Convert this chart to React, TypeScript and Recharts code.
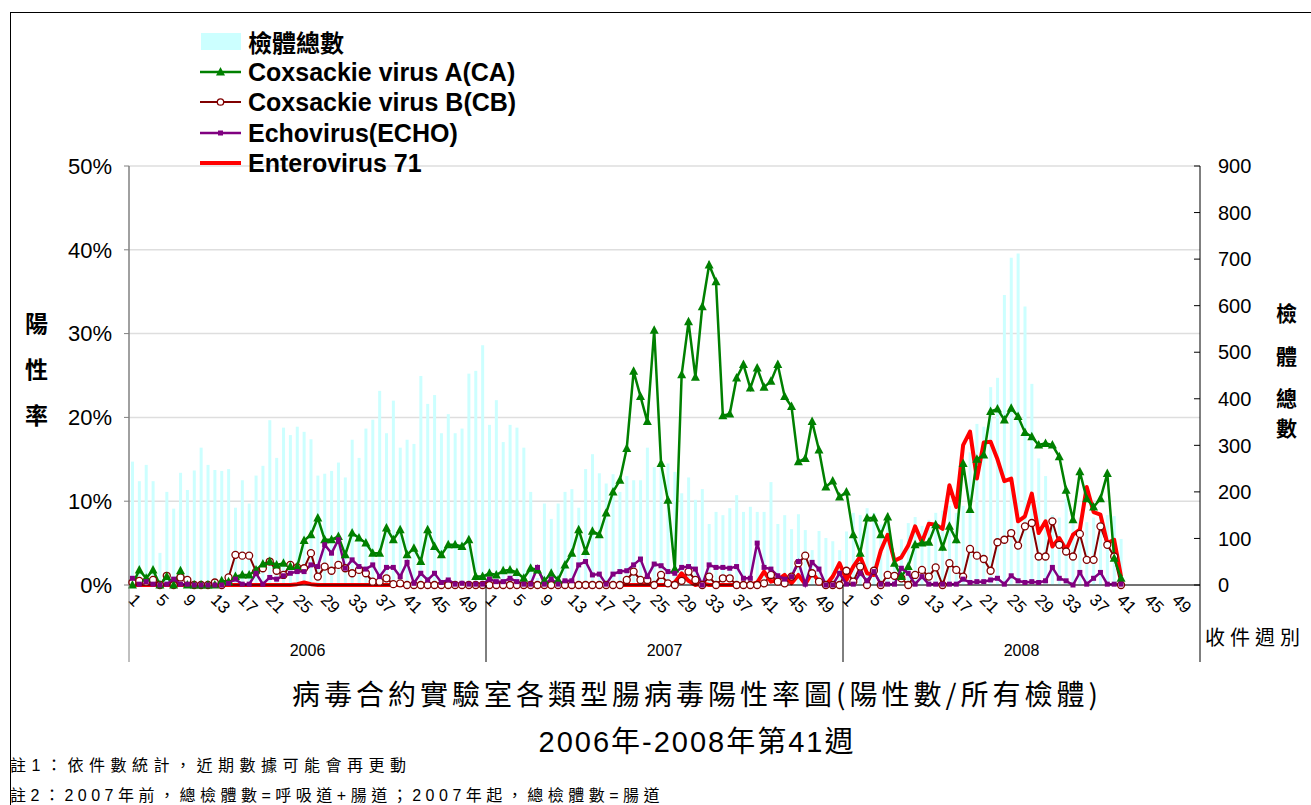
import { Bar, CartesianGrid, ComposedChart, Line, XAxis, YAxis } from 'recharts';

// weekly data, 2006 week 1 .. 2008 week 41
const YEARS = ['2006', '2007', '2008'];
const WEEKS_PER_YEAR = 52;

// 檢體總數 (right axis)
const specimens2006 = [
  265, 223, 258, 223, 69, 200, 164, 241, 204, 246, 295, 258, 247, 245, 249, 166, 225, 175, 235, 256,
  354, 273, 338, 322, 340, 329, 313, 235, 239, 245, 263, 231, 312, 273, 336, 355, 417, 326, 396, 295,
  312, 303, 449, 389, 408, 326, 367, 326, 336, 454, 460, 515,
];
const specimens2007 = [
  344, 397, 307, 344, 338, 295, 200, 15, 175, 142, 175, 200, 206, 166, 249, 281, 240, 218, 238, 200,
  234, 225, 225, 295, 253, 261, 261, 243, 197, 231, 183, 206, 131, 157, 150, 165, 193, 157, 168, 157,
  157, 221, 131, 150, 120, 152, 118, 75, 116, 101, 94, 75,
];
const specimens2008 = [
  115, 155, 150, 165, 155, 130, 150, 45, 98, 133, 146, 127, 140, 155, 160, 170, 155, 170, 285, 346,
  340, 425, 445, 623, 703, 712, 598, 432, 272, 234, 150, 145, 185, 140, 145, 135, 145, 150, 150, 148,
  99,
];

// Coxsackie virus A (%)
const ca2006 = [
  0, 1.8, 0.8, 1.8, 0, 1.0, 0, 1.7, 0, 0, 0, 0, 0, 0.5, 0.4, 1.0, 1.2, 1.2, 1.8, 2.5,
  2.8, 2.4, 2.6, 2.2, 2.2, 5.3, 6.0, 8.0, 5.4, 5.4, 5.8, 3.6, 6.2, 5.6, 5.0, 3.8, 3.8, 6.8, 5.4, 6.6,
  3.6, 4.4, 2.8, 6.6, 4.6, 3.6, 4.8, 4.8, 4.6, 5.4, 1.0, 1.0,
];
const ca2007 = [
  1.4, 1.2, 1.7, 1.8, 1.5, 0.8, 2.0, 1.8, 0.5, 1.4, 0.6, 2.4, 3.8, 6.6, 4.0, 6.4, 6.0, 8.6, 11.1, 12.5,
  16.3, 25.5, 22.5, 19.5, 30.4, 14.5, 10.1, 1.9, 25.1, 31.4, 24.8, 33.2, 38.2, 36.2, 20.2, 20.4, 24.7, 26.3, 23.5, 25.9,
  23.6, 24.3, 26.3, 22.5, 21.3, 14.7, 15.1, 19.5, 16.1, 11.7, 12.4, 10.5,
];
const ca2008 = [
  11.1, 6.0, 3.8, 8.0, 8.0, 6.0, 8.1, 2.6, 1.0, 2.2, 4.8, 5.0, 5.1, 7.2, 4.5, 7.0, 5.4, 14.5, 9.0, 15.0,
  15.5, 20.7, 21.0, 19.7, 21.1, 20.1, 18.2, 17.7, 16.7, 16.9, 16.7, 15.3, 11.3, 7.8, 13.5, 10.3, 9.3, 10.3, 13.3, 3.2,
  0.8,
];

// Coxsackie virus B (%)
const cb2006 = [
  0.3, 0.5, 0.4, 0.6, 0, 1.1, 0, 0.9, 0.6, 0, 0, 0, 0.3, 0, 0.9, 3.6, 3.5, 3.5, 1.6, 2.0,
  2.8, 1.7, 1.2, 2.4, 2.1, 2.0, 3.8, 1.0, 2.2, 1.7, 2.4, 2.0, 1.4, 1.8, 1.4, 0.4, 0.4, 0.8, 0.1, 0.2,
  0, 0, 0, 0, 0, 0, 0, 0, 0, 0, 0, 0,
];
const cb2007 = [
  0, 0, 0, 0, 0, 0, 0, 0, 0, 0, 0, 0, 0, 0, 0, 0, 0, 0, 0, 0,
  0.6, 1.6, 0.6, 0.6, 0, 1.2, 0.2, 0, 0.5, 1.6, 0.6, 0, 1.0, 0, 0.8, 0.8, 0, 0, 0, 0,
  0.2, 1.2, 0.4, 0.2, 1.0, 2.6, 3.5, 1.4, 0.4, 0, 0, 0,
];
const cb2008 = [
  1.7, 0.4, 2.2, 0, 1.7, 0, 1.2, 1.1, 0.8, 0, 1.2, 1.8, 1.0, 2.1, 0, 2.6, 1.8, 1.0, 4.3, 3.5,
  3.1, 1.7, 5.1, 5.4, 6.2, 4.7, 7.0, 7.4, 3.4, 3.4, 7.6, 4.8, 4.0, 3.4, 6.1, 3.0, 3.0, 7.0, 4.8, 3.4,
  0,
];

// Echovirus (%)
const echo2006 = [
  0.8, 0.1, 0.4, 0.1, 0, 0.1, 0.7, 0.1, 0.1, 0, 0, 0, 0, 0, 0.2, 0.7, 0.1, 0.1, 1.4, 0.1,
  0.9, 0.7, 1.1, 1.4, 1.6, 1.6, 2.4, 2.2, 4.8, 3.8, 5.4, 2.0, 3.0, 2.2, 1.9, 2.4, 1.0, 2.1, 2.1, 1.0,
  2.7, 0.2, 1.4, 0.6, 1.4, 0.3, 0.6, 0.1, 0.2, 0.1, 0.1, 0.1,
];
const echo2007 = [
  0.7, 0.4, 0.4, 0.8, 0.4, 0.1, 0.1, 2.1, 0.1, 0.7, 0.1, 0.5, 0.5, 2.4, 2.8, 1.2, 1.3, 0.1, 1.3, 1.6,
  1.7, 2.4, 3.1, 1.0, 2.5, 2.3, 1.6, 1.4, 2.1, 2.2, 1.9, 0, 2.4, 2.1, 2.1, 2.0, 2.2, 0.8, 0.8, 5.0,
  2.1, 1.9, 1.1, 0.7, 1.0, 2.8, 0.1, 2.7, 1.9, 0, 0, 1.4,
];
const echo2008 = [
  0.1, 0.1, 1.4, 0.5, 1.6, 0.1, 0.1, 0.1, 2.0, 1.4, 0.1, 1.0, 0.1, 0.1, 0.1, 0.1, 0.1, 0.7, 0.3, 0.4,
  0.4, 0.6, 0.8, 0.1, 1.1, 0.5, 0.3, 0.4, 0.3, 0.5, 2.1, 0.8, 0.5, 0, 1.5, 0.1, 0.8, 1.5, 0.1, 0.1,
  0.1,
];

// Enterovirus 71 (%)
const ev2006 = [
  0, 0, 0, 0, 0, 0, 0, 0, 0, 0, 0, 0, 0, 0, 0, 0, 0, 0, 0, 0,
  0, 0, 0, 0, 0.1, 0.3, 0.1, 0, 0, 0, 0, 0, 0, 0, 0, 0, 0, 0, 0, 0,
  0, 0, 0, 0, 0, 0, 0, 0, 0, 0, 0, 0,
];
const ev2007 = [
  0, 0, 0, 0, 0, 0, 0, 0, 0, 0, 0, 0, 0, 0, 0, 0, 0, 0, 0, 0,
  0, 0, 0, 0, 0, 0, 0, 0.3, 1.4, 0.5, 0, 0.2, 0, 0, 0, 0, 0, 0, 0, 0.3,
  1.6, 0.4, 0.6, 1.2, 0.2, 1.2, 0.1, 1.5, 0.4, 0, 1.0, 2.6,
];
const ev2008 = [
  0.6, 2.2, 3.4, 1.4, 1.2, 4.1, 6.0, 2.9, 3.3, 4.7, 7.0, 5.1, 7.3, 7.2, 6.7, 11.9, 9.3, 16.7, 18.3, 12.7,
  17.0, 17.1, 15.0, 12.4, 12.7, 7.6, 8.2, 10.9, 6.2, 7.6, 4.6, 5.6, 4.2, 6.0, 6.6, 11.7, 8.7, 8.4, 5.0, 5.4,
  1.0,
];

const leftTicks = [0, 10, 20, 30, 40, 50];
const rightTicks = [0, 100, 200, 300, 400, 500, 600, 700, 800, 900];

const specimens = [...specimens2006, ...specimens2007, ...specimens2008];
const ca = [...ca2006, ...ca2007, ...ca2008];
const cb = [...cb2006, ...cb2007, ...cb2008];
const echo = [...echo2006, ...echo2007, ...echo2008];
const ev71 = [...ev2006, ...ev2007, ...ev2008];

const rows = YEARS.flatMap((year, y) =>
  Array.from({ length: WEEKS_PER_YEAR }, (_, w) => {
    const i = y * WEEKS_PER_YEAR + w;
    return {
      key: `${year}-${w + 1}`,
      specimens: specimens[i] ?? null,
      ca: ca[i] ?? null,
      cb: cb[i] ?? null,
      echo: echo[i] ?? null,
      ev71: ev71[i] ?? null,
    };
  })
);

const SANS = '"Liberation Sans", Arial, sans-serif';
const CJK = '"Noto Sans CJK TC", "Noto Sans CJK JP", sans-serif';
const NARROW = '"Liberation Sans Narrow", "Arial Narrow", "Liberation Sans", sans-serif';

const GREEN = '#008000';
const MAROON = '#800000';
const PURPLE = '#800080';
const RED = '#ff0000';
const CYAN = '#ccffff';

const PLOT_LEFT = 129;
const PLOT_RIGHT = 1200;
const PLOT_BOTTOM = 585;
const GROUP_BOTTOM = 662;
const HALF_BAND = (PLOT_RIGHT - PLOT_LEFT) / rows.length / 2;

const triangleDot = (props: any) => {
  const { cx, cy, index, value } = props;
  if (cx == null || cy == null || value == null) return <g key={`ca-${index}`} />;
  return (
    <path
      key={`ca-${index}`}
      d={`M${cx},${cy - 5}L${cx + 4.5},${cy + 3.5}L${cx - 4.5},${cy + 3.5}Z`}
      fill={GREEN}
    />
  );
};

const circleDot = (props: any) => {
  const { cx, cy, index, value } = props;
  if (cx == null || cy == null || value == null) return <g key={`cb-${index}`} />;
  return <circle key={`cb-${index}`} cx={cx} cy={cy} r={3.5} fill="#fff" stroke={MAROON} strokeWidth={1.3} />;
};

const squareDot = (props: any) => {
  const { cx, cy, index, value } = props;
  if (cx == null || cy == null || value == null) return <g key={`echo-${index}`} />;
  return <rect key={`echo-${index}`} x={cx - 2.5} y={cy - 2.5} width={5} height={5} fill={PURPLE} />;
};

const WeekTick = (props: any) => {
  const { x, payload, index } = props;
  const [year, weekStr] = String(payload.value).split('-');
  const week = Number(weekStr);
  const parts = [];
  if ((week - 1) % 4 === 0) {
    parts.push(
      <text
        key="w"
        x={x - 5}
        y={601}
        transform={`rotate(45 ${x - 5} 601)`}
        fontSize={17}
        fontFamily={SANS}
        fill="#000"
        textAnchor="start"
      >
        {week}
      </text>
    );
  }
  if (week === 1) {
    parts.push(
      <line
        key="s"
        x1={x - HALF_BAND}
        x2={x - HALF_BAND}
        y1={PLOT_BOTTOM}
        y2={GROUP_BOTTOM}
        stroke={index === 0 ? '#808080' : '#000'}
      />
    );
  }
  if (week === 27) {
    parts.push(
      <text key="y" x={x - HALF_BAND} y={656} fontSize={16} fontFamily={SANS} fill="#000" textAnchor="middle">
        {year}
      </text>
    );
  }
  if (index === rows.length - 1) {
    parts.push(
      <line key="e" x1={x + HALF_BAND} x2={x + HALF_BAND} y1={PLOT_BOTTOM} y2={GROUP_BOTTOM} stroke="#000" />
    );
  }
  return <g>{parts}</g>;
};

const RightTick = (props: any) => {
  const { y, payload } = props;
  return (
    <g>
      <line x1={PLOT_RIGHT - 6} x2={PLOT_RIGHT} y1={y} y2={y} stroke="#000" />
      <text x={PLOT_RIGHT + 18} y={y} dy="0.36em" fontSize={20} fontFamily={SANS} fill="#000" textAnchor="start">
        {payload.value}
      </text>
    </g>
  );
};

const legendItems = [
  { label: '檢體總數', kind: 'bar', cy: 42 },
  { label: 'Coxsackie virus A(CA)', kind: 'ca', cy: 72 },
  { label: 'Coxsackie virus B(CB)', kind: 'cb', cy: 102 },
  { label: 'Echovirus(ECHO)', kind: 'echo', cy: 133 },
  { label: 'Enterovirus 71', kind: 'ev', cy: 163 },
];

function LegendSwatch({ kind }: { kind: string }) {
  return (
    <svg width={44} height={20} style={{ display: 'block' }}>
      {kind === 'bar' && <rect x={1} y={1} width={40} height={17} fill={CYAN} />}
      {kind === 'ca' && (
        <g>
          <line x1={0} x2={41} y1={10} y2={10} stroke={GREEN} strokeWidth={2.5} />
          <path d="M20.5,5 L25,13.5 L16,13.5Z" fill={GREEN} />
        </g>
      )}
      {kind === 'cb' && (
        <g>
          <line x1={0} x2={41} y1={10} y2={10} stroke={MAROON} strokeWidth={2} />
          <circle cx={20.5} cy={10} r={3.2} fill="#fff" stroke={MAROON} strokeWidth={1.3} />
        </g>
      )}
      {kind === 'echo' && (
        <g>
          <line x1={0} x2={41} y1={10} y2={10} stroke={PURPLE} strokeWidth={2.5} />
          <rect x={18} y={7.5} width={5} height={5} fill={PURPLE} />
        </g>
      )}
      {kind === 'ev' && <line x1={0} x2={41} y1={10} y2={10} stroke={RED} strokeWidth={4} />}
    </svg>
  );
}

export default function App() {
  return (
    <div
      style={{
        position: 'absolute',
        left: 0,
        top: 0,
        width: 1311,
        height: 805,
        overflow: 'hidden',
        background: '#fff',
        fontFamily: SANS,
      }}
    >
      <div
        style={{
          position: 'absolute',
          left: 10,
          top: 12,
          width: 1340,
          height: 840,
          border: '1px solid #000',
        }}
      />

      <div style={{ position: 'absolute', left: 0, top: 0 }}>
        <ComposedChart
          width={1311}
          height={670}
          data={rows}
          margin={{ top: 166, right: 51, bottom: 8, left: 69 }}
          barCategoryGap={0}
        >
          <CartesianGrid yAxisId="left" vertical={false} stroke="#dedede" strokeWidth={1.5} />
          <XAxis
            dataKey="key"
            interval={0}
            height={77}
            tickLine={false}
            axisLine={{ stroke: '#000' }}
            tick={WeekTick}
          />
          <YAxis
            yAxisId="left"
            orientation="left"
            width={60}
            domain={[0, 50]}
            ticks={leftTicks}
            tickFormatter={(v: number) => `${v}%`}
            tick={{ fontSize: 22, fill: '#000', fontFamily: SANS }}
            tickSize={5}
            tickMargin={12}
            tickLine={{ stroke: '#808080' }}
            axisLine={{ stroke: '#808080', strokeWidth: 1.5 }}
          />
          <YAxis
            yAxisId="right"
            orientation="right"
            width={60}
            domain={[0, 900]}
            ticks={rightTicks}
            tick={RightTick}
            tickLine={false}
            axisLine={{ stroke: '#000' }}
          />
          <Bar yAxisId="right" dataKey="specimens" fill={CYAN} barSize={3} isAnimationActive={false} />
          <Line
            yAxisId="left"
            dataKey="cb"
            stroke={MAROON}
            strokeWidth={2}
            dot={circleDot}
            activeDot={false}
            isAnimationActive={false}
          />
          <Line
            yAxisId="left"
            dataKey="ev71"
            stroke={RED}
            strokeWidth={4}
            strokeLinejoin="round"
            dot={false}
            activeDot={false}
            isAnimationActive={false}
          />
          <Line
            yAxisId="left"
            dataKey="ca"
            stroke={GREEN}
            strokeWidth={2.5}
            dot={triangleDot}
            activeDot={false}
            isAnimationActive={false}
          />
          <Line
            yAxisId="left"
            dataKey="echo"
            stroke={PURPLE}
            strokeWidth={2.5}
            dot={squareDot}
            activeDot={false}
            isAnimationActive={false}
          />
        </ComposedChart>
      </div>

      {/* legend */}
      {legendItems.map((item) => (
        <div
          key={item.kind}
          style={{
            position: 'absolute',
            left: 200,
            top: item.cy - 13,
            height: 26,
            display: 'flex',
            alignItems: 'center',
          }}
        >
          <LegendSwatch kind={item.kind} />
          <span
            style={{
              marginLeft: 4,
              fontSize: item.kind === 'bar' ? 24 : 25,
              fontWeight: 'bold',
              fontFamily: item.kind === 'bar' ? CJK : SANS,
              lineHeight: '26px',
              height: 26,
              display: 'block',
              whiteSpace: 'nowrap',
            }}
          >
            {item.label}
          </span>
        </div>
      ))}

      {/* axis titles */}
      {['陽', '性', '率'].map((ch, i) => (
        <div
          key={ch}
          style={{
            position: 'absolute',
            left: 25,
            top: 322 + i * 46 - 14,
            fontSize: 23,
            fontWeight: 'bold',
            fontFamily: CJK,
            lineHeight: '28px',
          }}
        >
          {ch}
        </div>
      ))}
      {['檢', '體', '總', '數'].map((ch, i) => (
        <div
          key={ch}
          style={{
            position: 'absolute',
            left: 1276,
            top: [312, 355, 397, 427][i] - 13,
            fontSize: 21,
            fontWeight: 'bold',
            fontFamily: CJK,
            lineHeight: '26px',
          }}
        >
          {ch}
        </div>
      ))}
      <div
        style={{
          position: 'absolute',
          left: 1205,
          top: 622,
          fontSize: 20,
          letterSpacing: 5,
          fontFamily: CJK,
          lineHeight: '30px',
          whiteSpace: 'nowrap',
        }}
      >
        收件週別
      </div>

      {/* titles */}
      <div
        style={{
          position: 'absolute',
          left: 0,
          width: 1394,
          top: 674,
          textAlign: 'center',
          fontSize: 28,
          letterSpacing: 4,
          fontFamily: CJK,
          lineHeight: '38px',
          whiteSpace: 'nowrap',
        }}
      >
        病毒合約實驗室各類型腸病毒陽性率圖(陽性數/所有檢體)
      </div>
      <div
        style={{
          position: 'absolute',
          left: 0,
          width: 1394,
          top: 722,
          textAlign: 'center',
          fontSize: 29,
          letterSpacing: 2,
          fontFamily: `${NARROW}, ${CJK}`,
          lineHeight: '40px',
          whiteSpace: 'nowrap',
        }}
      >
        2006年-2008年第41週
      </div>

      {/* notes */}
      <div
        style={{
          position: 'absolute',
          left: 10,
          top: 754,
          fontSize: 16,
          letterSpacing: 5.5,
          fontFamily: `${NARROW}, ${CJK}`,
          lineHeight: '24px',
          whiteSpace: 'nowrap',
        }}
      >
        註1：依件數統計，近期數據可能會再更動
      </div>
      <div
        style={{
          position: 'absolute',
          left: 10,
          top: 784,
          fontSize: 16,
          letterSpacing: 4.5,
          fontFamily: `${NARROW}, ${CJK}`,
          lineHeight: '24px',
          whiteSpace: 'nowrap',
        }}
      >
        註2：2007年前，總檢體數=呼吸道+腸道；2007年起，總檢體數=腸道
      </div>
    </div>
  );
}
